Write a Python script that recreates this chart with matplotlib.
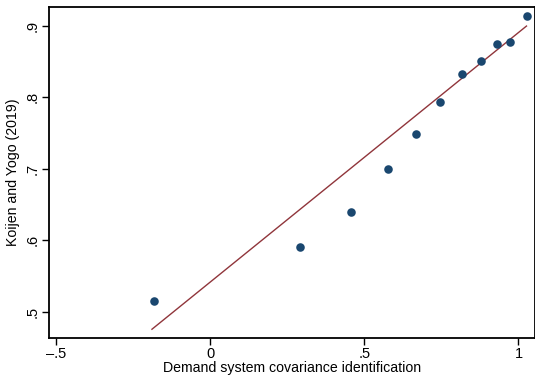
import matplotlib
matplotlib.use("Agg")
import matplotlib.pyplot as plt
import numpy as np

# binned scatter values
dsci = [-0.182, 0.292, 0.458, 0.578, 0.666, 0.747, 0.818, 0.880, 0.929, 0.974, 1.028]
ky19 = [0.515, 0.5905, 0.639, 0.6996, 0.748, 0.793, 0.832, 0.851, 0.874, 0.877, 0.9136]

# fitted line (from the underlying data)
fit_intercept = 0.5414
fit_slope = 0.349

xticks = [-0.5, 0, 0.5, 1]
xlabels = ["\u2013.5", "0", ".5", "1"]
yticks = [0.5, 0.6, 0.7, 0.8, 0.9]
ylabels = [".5", ".6", ".7", ".8", ".9"]

plt.rcParams["font.family"] = ["Liberation Sans", "DejaVu Sans"]

fig = plt.figure(figsize=(5.35, 3.76), dpi=100)
ax = fig.add_axes([49.3 / 535, 1 - 337.7 / 376, (534.5 - 49.3) / 535, (337.7 - 7.3) / 376])

xs = np.array([min(dsci) - 0.007, max(dsci) - 0.002])
ax.plot(xs, fit_intercept + fit_slope * xs, color="#90353b", lw=1.0, zorder=2)
ax.scatter(dsci, ky19, s=38, color="#1a476f", zorder=3, linewidths=0)

ax.set_xlim(-0.522, 1.052)
ax.set_ylim(0.4636, 0.9257)
ax.set_xticks(xticks)
ax.set_xticklabels(xlabels)
ax.set_yticks(yticks)
ax.set_yticklabels(ylabels, rotation=90, va="center")
ax.tick_params(direction="out", length=5, width=1, labelsize=10.5, pad=2)
for s in ax.spines.values():
    s.set_linewidth(1.3)
ax.set_xlabel("Demand system covariance identification", fontsize=10.2, labelpad=0)
ax.set_ylabel("Koijen and Yogo (2019)", fontsize=10.2, labelpad=4)

fig.savefig("out.png", dpi=100)
